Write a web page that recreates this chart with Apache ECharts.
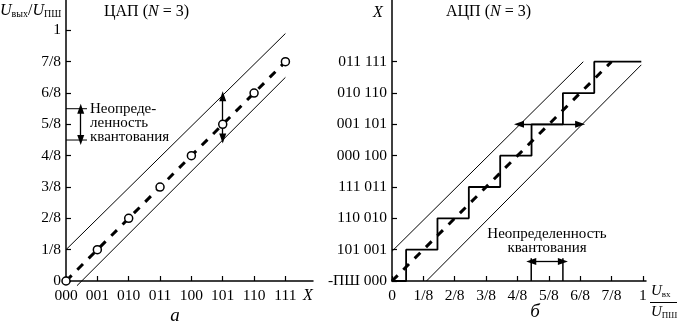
<!DOCTYPE html>
<html>
<head>
<meta charset="utf-8">
<script src="https://cdn.jsdelivr.net/npm/echarts@6/dist/echarts.min.js"></script>
<style>html,body{margin:0;padding:0;background:#fff;}#c{width:678px;height:324px;}</style>
</head>
<body>
<div id="c"></div>
<script>
// ---- DATA (all positions in units of 1/8 of full scale) ----
// Left chart (DAC)
const dacCodes = ['000','001','010','011','100','101','110','111'];
const dacYLabels = ['0','1/8','2/8','3/8','4/8','5/8','6/8','7/8','1'];
const dacX = [0,1,2,3,4,5,6,7];
const dacY = [0,1,2,3,4,5,6,7];
const dacIdeal = [[0,0],[7,7]];
const dacUpper = [[0,1],[7,7.9]];
const dacLower = [[0.35,-0.15],[7,6.5]];
const dacArrow = [[5,4.55],[5,5.9]];
// Right chart (ADC)
const adcXLabels = ['0','1/8','2/8','3/8','4/8','5/8','6/8','7/8','1'];
const adcYLabels = ['-ПШ 000','101 001','110 010','111 011','000 100','001 101','010 110','011 111'];
const adcStepEdges = [0.45,1.45,2.45,3.45,4.45,5.45,6.45];
const adcCodes = [0,1,2,3,4,5,6,7];
const adcEnd = 7.95;
const adcIdeal = [[0,0],[7,7]];
const adcUpper = [[0,0.95],[6.1,7]];
const adcLower = [[1.1,0],[7.95,6.9]];
const adcArrow = [[4.05,5],[6.0,5]];
const adcBracket = [4.44,5.45];

// build staircase points
const stair = [[0, adcCodes[0]]];
adcStepEdges.forEach((e,i)=>{ stair.push([e, adcCodes[i]]); stair.push([e, adcCodes[i+1]]); });
stair.push([adcEnd, adcCodes[7]]);

const FONT = 'Liberation Serif';
const chart = echarts.init(document.getElementById('c'));

function axisCommon(){
  return {
    axisLine:{show:true,onZero:false,lineStyle:{color:'#000',width:1.5}},
    splitLine:{show:false},
  };
}

const lineS = (xi, yi, data, extra) => Object.assign({
  type:'line', xAxisIndex:xi, yAxisIndex:yi, data:data, symbol:'none', clip:false,
  lineStyle:{color:'#000',width:1}, silent:true, animation:false
}, extra||{});

const arrowMark = (pairs, size) => ({
  silent:true, animation:false,
  symbol:['triangle','triangle'], symbolSize:size||[7,10],
  label:{show:false},
  lineStyle:{color:'#000',width:1.3,type:'solid'},
  itemStyle:{color:'#000'},
  data: pairs.map(p=>[{coord:p[0]},{coord:p[1]}])
});

const option = {
  animation:false,
  backgroundColor:'#fff',
  textStyle:{fontFamily:FONT},
  grid:[
    {left:66, top:0, width:247, height:281},
    {left:392, top:0, width:254, height:281}
  ],
  xAxis:[
    Object.assign(axisCommon(),{
      type:'value', gridIndex:0, min:0, max:7.88,
      axisTick:{show:true,inside:true,length:5,lineStyle:{color:'#000',width:1.2},customValues:dacX},
      axisLabel:{customValues:dacX,color:'#000',fontFamily:FONT,fontSize:15.5,margin:7,
        formatter:v=>dacCodes[Math.round(v)]}
    }),
    Object.assign(axisCommon(),{
      type:'value', gridIndex:1, min:0, max:8.1,
      axisTick:{show:true,inside:true,length:5,lineStyle:{color:'#000',width:1.2},customValues:[0,1,2,3,4,5,6,7,8]},
      axisLabel:{customValues:[0,1,2,3,4,5,6,7,8],color:'#000',fontFamily:FONT,fontSize:15.5,margin:7,
        formatter:v=>adcXLabels[Math.round(v)]}
    })
  ],
  yAxis:[
    Object.assign(axisCommon(),{
      type:'value', gridIndex:0, min:0, max:8.97,
      axisTick:{show:true,inside:true,length:5,lineStyle:{color:'#000',width:1.2},customValues:[0,1,2,3,4,5,6,7,8]},
      axisLabel:{customValues:[0,1,2,3,4,5,6,7,8],color:'#000',fontFamily:FONT,fontSize:15.5,margin:5,
        formatter:v=>dacYLabels[Math.round(v)]}
    }),
    Object.assign(axisCommon(),{
      type:'value', gridIndex:1, min:0, max:8.97,
      axisTick:{show:true,inside:true,length:5,lineStyle:{color:'#000',width:1.2},customValues:adcCodes},
      axisLabel:{customValues:adcCodes,color:'#000',fontFamily:FONT,fontSize:15.5,margin:5,
        formatter:v=>adcYLabels[Math.round(v)]}
    })
  ],
  series:[
    // ---- left chart ----
    lineS(0,0,dacUpper),
    lineS(0,0,dacLower),
    lineS(0,0,dacIdeal,{lineStyle:{color:'#000',width:3,type:[8,8]},z:2}),
    {
      type:'scatter', xAxisIndex:0, yAxisIndex:0, clip:false, silent:true, animation:false,
      data: dacX.map((x,i)=>[x,dacY[i]]), symbol:'circle', symbolSize:8, z:5,
      itemStyle:{color:'#fff',borderColor:'#000',borderWidth:1.5,opacity:1}
    },
    lineS(0,0,[[0,5.5],[0.67,5.5]]),
    lineS(0,0,[[0,4.5],[0.67,4.5]],{
      markLine: arrowMark([[[0.47,4.5],[0.47,5.5]],dacArrow])
    }),
    // ---- right chart ----
    lineS(1,1,adcUpper),
    lineS(1,1,adcLower),
    lineS(1,1,stair,{lineStyle:{color:'#000',width:1.8},z:3}),
    lineS(1,1,adcIdeal,{lineStyle:{color:'#000',width:3,type:[8,8]},z:4}),
    lineS(1,1,[[adcBracket[0],0],[adcBracket[0],0.73]],{lineStyle:{color:'#000',width:1.5}}),
    lineS(1,1,[[adcBracket[1],0],[adcBracket[1],0.73]],{lineStyle:{color:'#000',width:1.5},
      markLine: arrowMark([[[adcBracket[0],0.62],[adcBracket[1],0.62]],adcArrow])
    })
  ],
  graphic:[
    {type:'text', left:0, top:3, style:{
      text:'{u|U}{s|вых}{n|/}{u|U}{s|ПШ}', fill:'#000',
      rich:{u:{fontFamily:FONT,fontStyle:'italic',fontSize:16,verticalAlign:'bottom'},
            s:{fontFamily:FONT,fontSize:10,padding:[6,0,0,0],verticalAlign:'bottom'},
            n:{fontFamily:FONT,fontSize:16,verticalAlign:'bottom'}}}},
    {type:'text', left:104, top:4, style:{
      text:'{r|ЦАП (}{i|N}{r| = 3)}', fill:'#000',
      rich:{r:{fontFamily:FONT,fontSize:16},i:{fontFamily:FONT,fontSize:16,fontStyle:'italic'}}}},
    {type:'text', left:446, top:4, style:{
      text:'{r|АЦП (}{i|N}{r| = 3)}', fill:'#000',
      rich:{r:{fontFamily:FONT,fontSize:16},i:{fontFamily:FONT,fontSize:16,fontStyle:'italic'}}}},
    {type:'text', left:373, top:5, style:{text:'X',fontFamily:FONT,fontSize:16,fontStyle:'italic',fill:'#000'}},
    {type:'text', left:303, top:288, style:{text:'X',fontFamily:FONT,fontSize:16,fontStyle:'italic',fill:'#000'}},
    {type:'text', left:90, top:102, style:{text:'Неопреде-\nленность\nквантования',fontFamily:FONT,fontSize:15,lineHeight:14,fill:'#000'}},
    {type:'text', x:547, y:227, style:{text:'Неопределенность\nквантования',fontFamily:FONT,fontSize:15,lineHeight:14,fill:'#000',align:'center'}},
    {type:'text', x:175, y:306, style:{text:'а',fontFamily:FONT,fontSize:19,fontStyle:'italic',fill:'#000',align:'center'}},
    {type:'text', x:535, y:302, style:{text:'б',fontFamily:FONT,fontSize:19,fontStyle:'italic',fill:'#000',align:'center'}},
    {type:'text', left:651, top:284, style:{
      text:'{u|U}{s|вх}', fill:'#000',
      rich:{u:{fontFamily:FONT,fontStyle:'italic',fontSize:15,verticalAlign:'bottom'},
            s:{fontFamily:FONT,fontSize:9,padding:[5,0,0,0],verticalAlign:'bottom'}}}},
    {type:'line', shape:{x1:650,y1:302.5,x2:677,y2:302.5}, style:{stroke:'#000',lineWidth:1}},
    {type:'text', left:651, top:305, style:{
      text:'{u|U}{s|ПШ}', fill:'#000',
      rich:{u:{fontFamily:FONT,fontStyle:'italic',fontSize:15,verticalAlign:'bottom'},
            s:{fontFamily:FONT,fontSize:9,padding:[5,0,0,0],verticalAlign:'bottom'}}}}
  ]
};
chart.setOption(option);
</script>
</body>
</html>
